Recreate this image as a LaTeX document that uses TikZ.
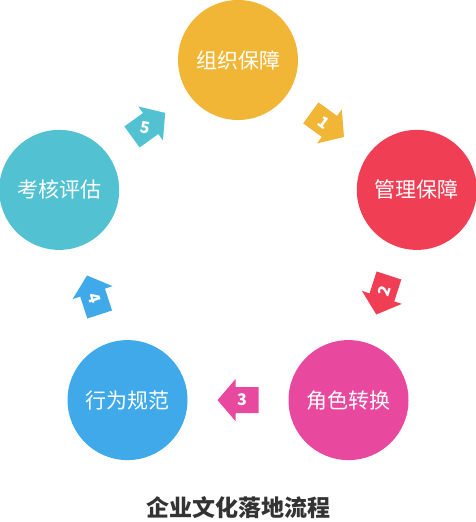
\documentclass[tikz,border=0pt]{standalone}
\usepackage{fontspec}
\newfontfamily\cjk{Noto Sans CJK SC}
\usepackage{tikz}
\usetikzlibrary{calc}
\definecolor{cyellow}{HTML}{F2B636}
\definecolor{cred}{HTML}{F03F55}
\definecolor{cpink}{HTML}{E8489E}
\definecolor{cblue}{HTML}{3FA9EA}
\definecolor{cteal}{HTML}{52C2D3}
\definecolor{ctitle}{HTML}{333333}
\tikzset{blockarrow/.pic={
  \fill[pic actions] (-20.5pt,-13pt) -- (2.5pt,-13pt) -- (2.5pt,-21pt) -- (20.5pt,0pt)
    -- (2.5pt,21pt) -- (2.5pt,13pt) -- (-20.5pt,13pt) -- cycle;}}

\begin{document}
\begin{tikzpicture}[x=1pt,y=1pt,
  stage/.style={circle,minimum size=120pt,inner sep=0pt,text=white,
    font=\cjk\fontsize{21}{25}\selectfont},
  num/.style={inner sep=0pt,text=white,font=\cjk\bfseries\fontsize{16}{19}\selectfont}]
\useasboundingbox (0,0) rectangle (476,522);
% stages round the pentagon
\node[stage,fill=cyellow] (zz) at (238,462) {组织保障};
\node[stage,fill=cred] (gl) at (416.8,332.1) {管理保障};
\node[stage,fill=cpink] (js) at (348.5,121.9) {角色转换};
\node[stage,fill=cblue] (xw) at (127.5,121.9) {行为规范};
\node[stage,fill=cteal] (kh) at (59.2,332.1) {考核评估};
% arrows between stages
\coordinate (m1) at ($(zz)!0.5!(gl)$);
\coordinate (m2) at ($(gl)!0.5!(js)$);
\coordinate (m3) at ($(js)!0.5!(xw)$);
\coordinate (m4) at ($(xw)!0.5!(kh)$);
\coordinate (m5) at ($(kh)!0.5!(zz)$);
\pic[fill=cyellow,rotate=-36] at (m1) {blockarrow};
\pic[fill=cred,rotate=-108] at (m2) {blockarrow};
\pic[fill=cpink,rotate=180] at (m3) {blockarrow};
\pic[fill=cblue,rotate=108] at (m4) {blockarrow};
\pic[fill=cteal,rotate=36] at (m5) {blockarrow};
\node[num,rotate=-36] (n1) at ([shift={(144:4)}]m1) {1};
\node[num,rotate=72] (n2) at ([shift={(72:4)}]m2) {2};
\node[num] (n3) at ([shift={(0:4)}]m3) {3};
\node[num,rotate=-72] (n4) at ([shift={(-72:4)}]m4) {4};
\node[num,rotate=-10] (n5) at ([shift={(216:4)}]m5) {5};
% title
\node[text=ctitle,font=\cjk\bfseries\fontsize{23}{27}\selectfont] (title) at (238,14) {企业文化落地流程};
\end{tikzpicture}
\end{document}
